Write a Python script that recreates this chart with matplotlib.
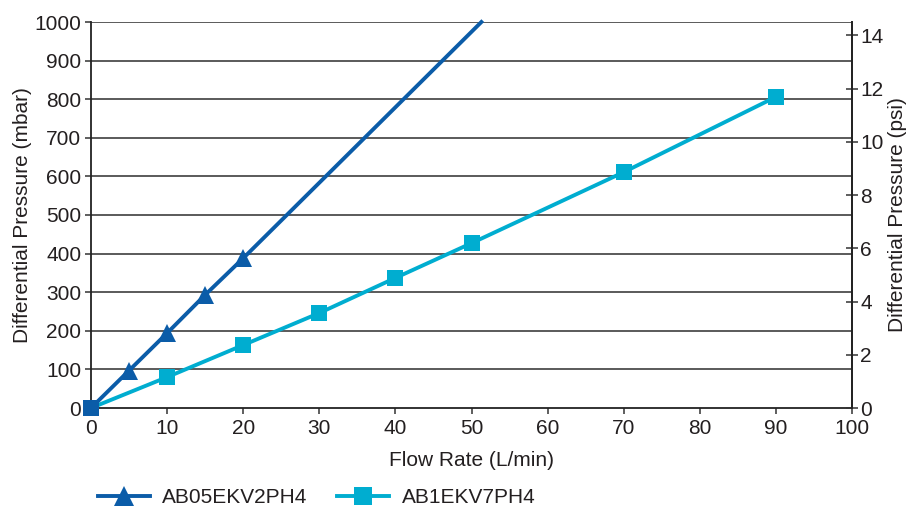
import matplotlib
matplotlib.use("Agg")
import matplotlib.pyplot as plt
import numpy as np

plt.rcParams['font.family'] = ['Liberation Sans', 'DejaVu Sans']

# Data
flow_a = [0, 5, 10, 15, 20, 51.3]
dp_a = [0, 97, 194, 293, 388, 1000]
label_a = "AB05EKV2PH4"

flow_b = [0, 10, 20, 30, 40, 50, 70, 90]
dp_b = [0, 80, 163, 246, 337, 427, 611, 806]
label_b = "AB1EKV7PH4"

x_ticks = list(range(0, 101, 10))
y_ticks = list(range(0, 1001, 100))
psi_ticks = list(range(0, 15, 2))
MBAR_TO_PSI = 0.0145038

c_dark = "#0b5ca8"
c_light = "#00add0"
txt = "#231f20"
FS = 15

fig = plt.figure(figsize=(9.1, 5.08), dpi=100)
ax = fig.add_axes([91/910, 100/508, (852-91)/910, (408-22)/508])

ax.set_xlim(0, 100)
ax.set_ylim(0, 1000)
for yv in y_ticks[1:]:
    ax.axhline(yv, color="#4d4d4d", lw=1.3, zorder=1)

lb, = ax.plot(flow_b, dp_b, color=c_light, lw=2.8, marker="s", ms=11.5,
              markeredgewidth=0, zorder=3, label=label_b, clip_on=False)
la, = ax.plot(flow_a, dp_a, color=c_dark, lw=2.8, marker="^", ms=12.5,
              markeredgewidth=0, markevery=list(range(1, 5)), zorder=4,
              label=label_a, clip_on=False)
ax.plot(flow_a[:1], dp_a[:1], color=c_dark, marker="s", ms=11.5,
        markeredgewidth=0, ls="none", zorder=5, clip_on=False)

ax.set_xticks(x_ticks)
ax.set_yticks(y_ticks)
ax.tick_params(axis="both", direction="out", length=4, width=1.1, colors="#333333",
               labelcolor=txt, labelsize=FS)
ax.tick_params(axis="y", pad=3)
ax.tick_params(axis="x", pad=4)
for s in ["left", "bottom", "right"]:
    ax.spines[s].set_color("#222222")
    ax.spines[s].set_linewidth(1.3)
ax.spines["top"].set_visible(False)

ax.set_xlabel("Flow Rate (L/min)", fontsize=FS, color=txt, labelpad=9)
ax.set_ylabel("Differential Pressure (mbar)", fontsize=FS, color=txt, labelpad=2)

ax2 = ax.twinx()
ax2.set_ylim(0, 1000 * MBAR_TO_PSI)
ax2.set_yticks(psi_ticks)
ax2.tick_params(axis="y", direction="inout", length=8, width=1.1, colors="#333333",
                labelcolor=txt, labelsize=FS, pad=2)
for s in ["left", "bottom", "top"]:
    ax2.spines[s].set_visible(False)
ax2.spines["right"].set_color("#222222")
ax2.spines["right"].set_linewidth(1.3)
ax2.set_ylabel("Differential Pressure (psi)", fontsize=FS, color=txt, labelpad=3)

leg = fig.legend(handles=[la, lb], loc="lower left", bbox_to_anchor=(79/910, -0.035),
                 ncol=2, frameon=False, fontsize=FS, handlelength=2.5,
                 columnspacing=1.4, handletextpad=0.6, markerscale=1.15)
for t in leg.get_texts():
    t.set_color(txt)

fig.savefig("out.png", dpi=100)
